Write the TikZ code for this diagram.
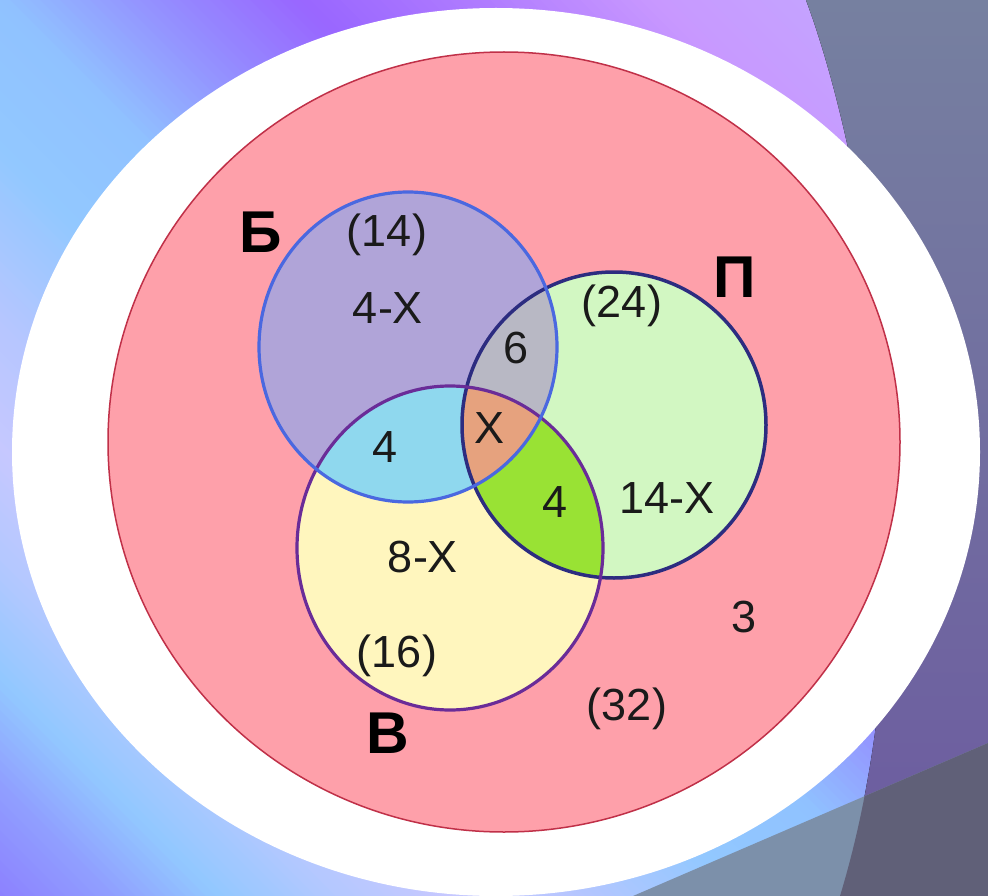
\documentclass[tikz,border=0pt]{standalone}
\usepackage{fontspec}
\setmainfont{Liberation Sans}
\definecolor{bg1}{HTML}{8C80FF}
\definecolor{bg2}{HTML}{90A0FF}
\definecolor{bg3}{HTML}{92C8FF}
\definecolor{bg4}{HTML}{B4C8FF}
\definecolor{bg5}{HTML}{C6C8FF}
\definecolor{bg6}{HTML}{B6C6FF}
\definecolor{bg7}{HTML}{92C8FF}
\definecolor{bg8}{HTML}{90C2FF}
\definecolor{bg9}{HTML}{9490FF}
\definecolor{bg10}{HTML}{9966FF}
\definecolor{bg11}{HTML}{B07CFF}
\definecolor{bg12}{HTML}{C898FF}
\definecolor{bg13}{HTML}{C4A4FF}
\definecolor{bg14}{HTML}{C0A8FF}
\definecolor{rtop}{HTML}{7680A0}
\definecolor{rmid}{HTML}{8068A6}
\definecolor{rbot}{HTML}{6C5AA0}
\definecolor{bandL}{HTML}{7C90AA}
\definecolor{bandR}{HTML}{606078}
\definecolor{pinkfill}{HTML}{FEA0AA}
\definecolor{pinkline}{HTML}{C03048}
\definecolor{bOnly}{HTML}{B0A4D8}
\definecolor{pOnly}{HTML}{D2F7C2}
\definecolor{vOnly}{HTML}{FFF6BE}
\definecolor{bpFill}{HTML}{B8B8C4}
\definecolor{bvFill}{HTML}{8FD8EE}
\definecolor{pvFill}{HTML}{99E234}
\definecolor{allFill}{HTML}{E6A27E}
\definecolor{bLine}{HTML}{4A68E0}
\definecolor{pLine}{HTML}{2C2C80}
\definecolor{vLine}{HTML}{6A2C98}
\definecolor{txt}{HTML}{1A1A1A}
\newcommand\bgseg[4]{%
  \pgfmathtruncatemacro\bgn{(#2-#1)/10}%
  \foreach \i in {1,...,\bgn}{%
    \pgfmathsetmacro\bga{#1+(\i-1)*10}%
    \pgfmathtruncatemacro\bgp{100*(\i-0.5)/\bgn}%
    \fill[#4!\bgp!#3] (\bga,0) -- ++(11,0) -- ++(896,896) -- ++(-11,0) -- cycle;
  }%
}
\begin{document}
\begin{tikzpicture}[x=1pt,y=-1pt,
  eB/.style={x radius=149pt,y radius=155pt},
  eP/.style={x radius=152pt,y radius=153pt},
  eV/.style={x radius=153pt,y radius=162pt},
  lbl/.style={inner sep=0pt,anchor=base,text=txt,font=\fontsize{45}{54}\selectfont},
  setlbl/.style={inner sep=0pt,anchor=base,text=black,font=\fontsize{59}{70}\selectfont\bfseries}]
\useasboundingbox (0,0) rectangle (988,896);
\clip (0,0) rectangle (988,896);
% background gradient strips
\bgseg{-900}{-780}{bg1}{bg2}
\bgseg{-780}{-680}{bg2}{bg3}
\bgseg{-680}{-560}{bg3}{bg4}
\bgseg{-560}{-450}{bg4}{bg5}
\bgseg{-450}{-320}{bg5}{bg6}
\bgseg{-320}{-150}{bg6}{bg7}
\bgseg{-150}{0}{bg7}{bg8}
\bgseg{0}{150}{bg8}{bg9}
\bgseg{150}{300}{bg9}{bg10}
\bgseg{300}{480}{bg10}{bg11}
\bgseg{480}{650}{bg11}{bg12}
\bgseg{650}{820}{bg12}{bg13}
\bgseg{820}{1000}{bg13}{bg14}
% right darker region
\fill[top color=rtop,middle color=rmid,bottom color=rbot]
  (806,0) .. controls (880,200) and (930,600) .. (840,896) -- (988,896) -- (988,0) -- cycle;
\begin{scope}
  \clip (633,896) -- (988,743) -- (988,896) -- cycle;
  \fill[bandL] (600,700) rectangle (988,896);
  \fill[bandR] (806,0) .. controls (880,200) and (930,600) .. (840,896) -- (988,896) -- (988,0) -- cycle;
\end{scope}
% white disc and universe
\fill[white] (496,452) ellipse [x radius=484pt,y radius=444pt];
\filldraw[fill=pinkfill,draw=pinkline,line width=1.5pt] (504,442) ellipse [x radius=396pt,y radius=390pt];
% set centres
\coordinate (Bc) at (408,347);
\coordinate (Pc) at (614,425);
\coordinate (Vc) at (450,548);
% fills
\fill[bOnly] (Bc) ellipse [eB];
\fill[pOnly] (Pc) ellipse [eP];
\fill[vOnly] (Vc) ellipse [eV];
\begin{scope}
  \clip (Bc) ellipse [eB];
  \fill[bpFill] (Pc) ellipse [eP];
  \fill[bvFill] (Vc) ellipse [eV];
\end{scope}
\begin{scope}
  \clip (Pc) ellipse [eP];
  \fill[pvFill] (Vc) ellipse [eV];
\end{scope}
\begin{scope}
  \clip (Bc) ellipse [eB];
  \clip (Pc) ellipse [eP];
  \fill[allFill] (Vc) ellipse [eV];
\end{scope}
% outlines
\draw[pLine,line width=3.5pt] (Pc) ellipse [eP];
\draw[vLine,line width=3.2pt] (Vc) ellipse [eV];
\draw[bLine,line width=3.2pt] (Bc) ellipse [eB];
% labels
\node[setlbl] (nB) at (261,252) {Б};
\node[setlbl] (nP) at (735,297) {П};
\node[setlbl] (nV) at (388,753) {В};
\node[lbl] (n14) at (387,247) {(14)};
\node[lbl] (n4x) at (388,323) {4-X};
\node[lbl] (n6) at (516,363) {6};
\node[lbl] (n24) at (622,317) {(24)};
\node[lbl] (nX) at (490,443) {X};
\node[lbl] (n4a) at (385,462) {4};
\node[lbl] (n4b) at (555,517) {4};
\node[lbl] (n14x) at (667,513) {14-X};
\node[lbl] (n8x) at (423,572) {8-X};
\node[lbl] (n16) at (397,667) {(16)};
\node[lbl] (n3) at (744,632) {3};
\node[lbl] (n32) at (627,720) {(32)};
\end{tikzpicture}
\end{document}
